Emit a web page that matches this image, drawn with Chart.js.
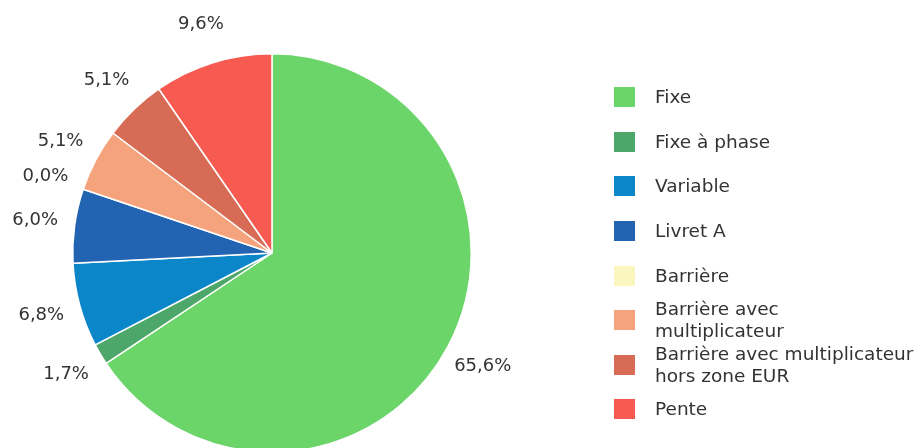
<!DOCTYPE html>
<html lang="fr">
<head>
<meta charset="utf-8">
<script src="https://cdn.jsdelivr.net/npm/chart.js@4.4.0/dist/chart.umd.min.js"></script>
<style>
  html, body { margin: 0; padding: 0; background: #fff; overflow: hidden; }
  #wrap { position: relative; width: 920px; height: 448px; overflow: hidden; }
  #camembert { position: absolute; left: 0; top: 0; }
  #legende {
    position: absolute; left: 614px; top: 75px; margin: 0; padding: 0; list-style: none;
    font-family: "DejaVu Sans", sans-serif; font-size: 18.5px; color: #333;
  }
  #legende li { display: flex; align-items: center; height: 44.6px; }
  #legende .box { width: 21px; height: 20px; flex: none; margin-right: 20px; }
  #legende .txt { line-height: 22px; white-space: nowrap; }
</style>
</head>
<body>
<div id="wrap">
  <canvas id="camembert" width="920" height="460"></canvas>
  <ul id="legende"></ul>
</div>
<script>
// répartition par type de taux (%)
const categories = ['Fixe', 'Fixe à phase', 'Variable', 'Livret A', 'Barrière',
  'Barrière avec multiplicateur', 'Barrière avec multiplicateur hors zone EUR', 'Pente'];
const lignesLegende = [['Fixe'], ['Fixe à phase'], ['Variable'], ['Livret A'], ['Barrière'],
  ['Barrière avec', 'multiplicateur'], ['Barrière avec multiplicateur', 'hors zone EUR'], ['Pente']];
const valeurs = [65.6, 1.7, 6.8, 6.0, 0.0, 5.1, 5.1, 9.6];
const couleurs = ['#6cd56a', '#4da66a', '#0a86c9', '#2263b2', '#fbf6bd', '#f5a37c', '#d86b56', '#f65a50'];

// legende html (libellés sur deux lignes)
let ul = document.getElementById('legende');
lignesLegende.forEach((l, i) => {
  let li = document.createElement('li');
  li.innerHTML = '<span class="box" style="background:' + couleurs[i] + '"></span><span class="txt">' + l.join('<br>') + '</span>';
  ul.appendChild(li);
});

// pourcentages autour du camembert
const EtiquettesPlugin = {
  afterDatasetsDraw: (chart) => {
    let ctx = chart.ctx;
    ctx.save();
    ctx.font = '18px "DejaVu Sans"';
    ctx.fillStyle = '#333';
    ctx.textAlign = 'center';
    ctx.textBaseline = 'middle';
    chart.getDatasetMeta(0).data.forEach((arc, i) => {
      const mid = (arc.startAngle + arc.endAngle) / 2;
      const r = arc.outerRadius * 1.2;
      const txt = valeurs[i].toFixed(1).replace('.', ',') + '%';
      ctx.fillText(txt, arc.x + Math.cos(mid) * r, arc.y + Math.sin(mid) * r);
    });
    ctx.restore();
  }
};

let ctx = document.getElementById('camembert').getContext('2d');
let camembert = new Chart(ctx, {
  type: 'pie',
  data: {
    labels: categories,
    datasets: [{
      data: valeurs,
      backgroundColor: couleurs,
      borderColor: '#fff',
      borderWidth: 1.5
    }]
  },
  options: {
    responsive: false,
    animation: false,
    layout: { padding: { left: 72, top: 53, right: 448, bottom: 7 } },
    plugins: { legend: { display: false }, tooltip: { enabled: false } }
  },
  plugins: [EtiquettesPlugin]
});
</script>
</body>
</html>
